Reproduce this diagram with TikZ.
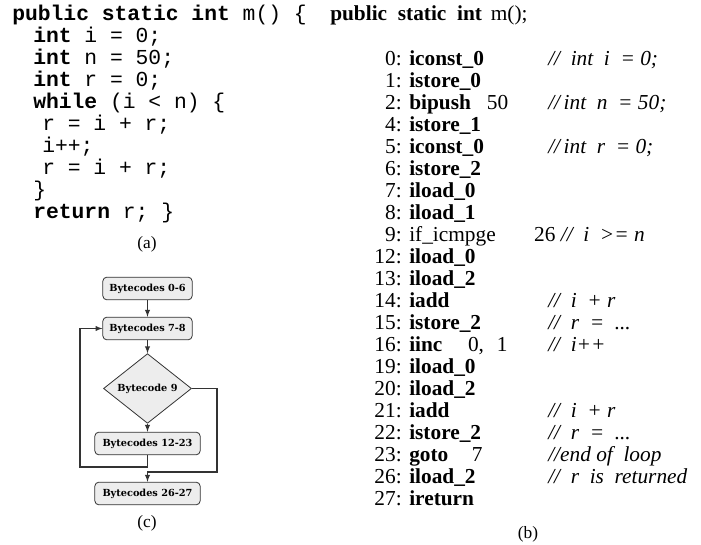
\documentclass[tikz,border=0pt]{standalone}
\usepackage{fontspec}
\setmainfont{Liberation Serif}
\setmonofont{Liberation Mono}
\newfontfamily\boxfont{DejaVu Serif}
\usetikzlibrary{shapes.geometric,positioning}
\tikzset{
  codeline/.style={anchor=base west,inner sep=0pt,font=\ttfamily\fontsize{16}{19}\selectfont},
  byteline/.style={anchor=base west,inner sep=0pt,font=\fontsize{16}{19}\selectfont},
  caption/.style={anchor=base,inner sep=0pt,font=\fontsize{13}{15}\selectfont},
  blockbox/.style={draw=black!80,fill=black!7,rounded corners=3pt,line width=0.6pt,
    minimum height=17pt,inner xsep=2pt,font=\boxfont\bfseries\fontsize{7.3}{9}\selectfont},
  testbox/.style={diamond,draw=black!80,fill=black!7,line width=0.6pt,inner sep=0pt,
    minimum width=66pt,minimum height=41pt,font=\boxfont\bfseries\fontsize{7.3}{9}\selectfont},
  flow/.style={draw=black!80,line width=0.8pt}
}
\begin{document}
\begin{tikzpicture}[x=0.75pt,y=-0.75pt,>=latex]
\useasboundingbox (0,0) rectangle (701,545);
% (a) source code
\node[codeline] (src1) at (12,21) {\textbf{public static int} m() \{};
\node[codeline] (src2) at (33,43) {\textbf{int} i = 0;};
\node[codeline] (src3) at (33,65) {\textbf{int} n = 50;};
\node[codeline] (src4) at (33,87) {\textbf{int} r = 0;};
\node[codeline] (src5) at (33,109) {\textbf{while} (i < n) \{};
\node[codeline] (src6) at (42,131) {r = i + r;};
\node[codeline] (src7) at (42,153) {i++;};
\node[codeline] (src8) at (42,175) {r = i + r;};
\node[codeline] (src9) at (33,197) {\}};
\node[codeline] (src10) at (33,219) {\textbf{return} r; \}};
\node[caption] (capa) at (147,249) {(a)};
% (b) bytecode listing
\node[byteline] (bhead) at (330,21) {\textbf{public\ \ static\ \ int}\ \,m();};
\foreach \num/\ins/\cmt [count=\k from 0] in {
  0/{\textbf{iconst\_0}}/{//\ \ int\ \ i\ \ = 0;},
  1/{\textbf{istore\_0}}/{},
  2/{\textbf{bipush}\hspace{0.75em}50}/{//\,int\ \ n\ \ = 50;},
  4/{\textbf{istore\_1}}/{},
  5/{\textbf{iconst\_0}}/{//\,int\ \ r\ \ = 0;},
  6/{\textbf{istore\_2}}/{},
  7/{\textbf{iload\_0}}/{},
  8/{\textbf{iload\_1}}/{},
  9/{if\_icmpge\hspace{1.8em}26\ \textit{//\ \ i\ \ >= n}}/{},
  12/{\textbf{iload\_0}}/{},
  13/{\textbf{iload\_2}}/{},
  14/{\textbf{iadd}}/{//\ \ i\ \ + r},
  15/{\textbf{istore\_2}}/{//\ \ r\ \ =\ \ ...},
  16/{\textbf{iinc}\hspace{1.2em}0,\hspace{0.6em}1}/{//\ \ i++},
  19/{\textbf{iload\_0}}/{},
  20/{\textbf{iload\_2}}/{},
  21/{\textbf{iadd}}/{//\ \ i\ \ + r},
  22/{\textbf{istore\_2}}/{//\ \ r\ \ =\ \ ...},
  23/{\textbf{goto}\hspace{1.1em}7}/{//end\ of\ \ loop},
  26/{\textbf{iload\_2}}/{//\ \ r\ \ is\ \ returned},
  27/{\textbf{ireturn}}/{}}{
  \node[byteline,anchor=base east] (bnum\k) at (402,{66+22*\k}) {\num:};
  \node[byteline] (bins\k) at (409,{66+22*\k}) {\ins};
  \node[byteline] (bcmt\k) at (548,{66+22*\k}) {\textit{\cmt}};
}
\node[caption] (capb) at (528,539) {(b)};
% (c) control flow
\node[blockbox,minimum width=67pt] (bc06) at (147.5,288.5) {Bytecodes 0-6};
\node[blockbox,minimum width=67pt] (bc78) at (147.5,328.5) {Bytecodes 7-8};
\node[testbox] (bc9) at (147.5,388.5) {Bytecode 9};
\node[blockbox,minimum width=79pt] (bc1223) at (147.5,443.5) {Bytecodes 12-23};
\node[blockbox,minimum width=79pt] (bc2627) at (147.5,493.5) {Bytecodes 26-27};
\coordinate (backturn) at (80,467);
\coordinate (exitturn) at (217,472);
\draw[flow,->] (bc06) -- (bc78);
\draw[flow,->] (bc78) -- (bc9);
\draw[flow,->] (bc9) -- (bc1223);
\draw[flow,->] (bc1223.south) |- (backturn) |- (bc78.west);
\draw[flow,->] (bc9.east) -| (exitturn) -| (bc2627.north);
\node[caption] (capc) at (147,528) {(c)};
\end{tikzpicture}
\end{document}
